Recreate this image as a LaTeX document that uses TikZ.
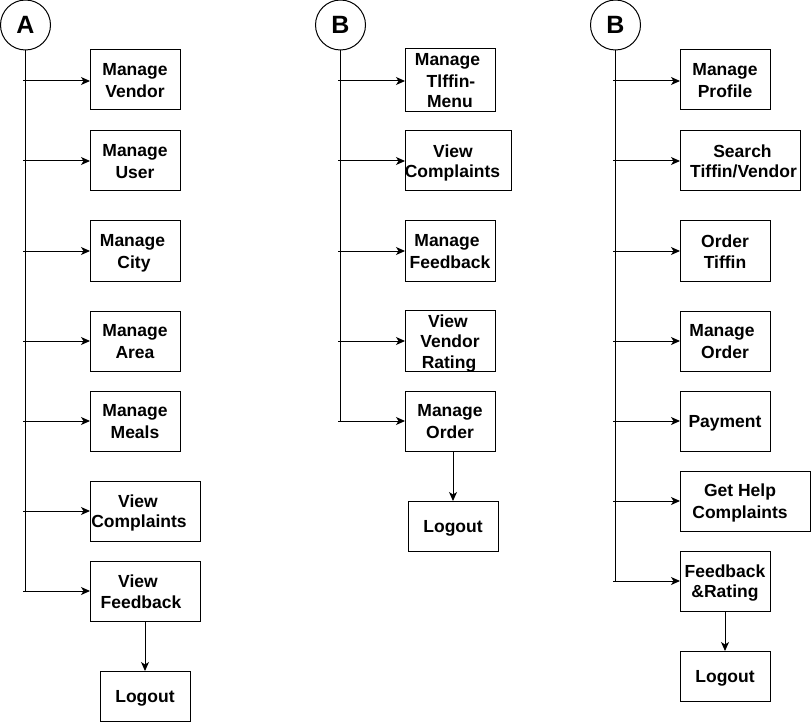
\documentclass[tikz,border=0pt]{standalone}
\usepackage{fontspec}
\setmainfont{Liberation Sans}
\usetikzlibrary{arrows.meta}
\newcommand\Lx[2][0pt]{\kern#1\rule[-3.5pt]{0pt}{20.5pt}#2}
\begin{document}
\begin{tikzpicture}[x=1pt,y=-1pt,
  box/.style={draw, line width=1pt, inner sep=0pt, outer sep=0pt, align=center,
    font=\bfseries\fontsize{17.5}{20.5}\selectfont},
  head/.style={draw, circle, line width=1pt, minimum size=50pt, inner sep=0pt, outer sep=0pt,
    font=\bfseries\fontsize{25}{30}\selectfont},
  wire/.style={line width=1pt},
  conn/.style={line width=1pt, -{Stealth[length=9pt,width=8pt,inset=2.5pt]}}]
\useasboundingbox (0,0) rectangle (811,722);

% ---------- Column A ----------
\node[head] (cA) at (25.5,25) {A};
\node[box, minimum width=90pt, minimum height=60pt] (A1) at (135,80) {\Lx{Manage}\\\Lx{Vendor}};
\node[box, minimum width=90pt, minimum height=60pt] (A2) at (135,161) {\Lx{Manage}\\\Lx{User}};
\node[box, minimum width=90pt, minimum height=60pt] (A3) at (135,251) {\Lx[-5pt]{Manage}\\\Lx[-2pt]{City}};
\node[box, minimum width=90pt, minimum height=60pt] (A4) at (135,341) {\Lx{Manage}\\\Lx{Area}};
\node[box, minimum width=90pt, minimum height=60pt] (A5) at (135,421) {\Lx{Manage}\\\Lx{Meals}};
\node[box, minimum width=110pt, minimum height=60pt] (A6) at (145,511) {\Lx[-14pt]{View}\\\Lx[-12pt]{Complaints}};
\node[box, minimum width=110pt, minimum height=60pt] (A7) at (145,591) {\Lx[-14pt]{View}\\\Lx[-8pt]{Feedback}};
\node[box, minimum width=90pt, minimum height=50pt] (A8) at (145,696) {\Lx{Logout}};
\coordinate (sA1) at (23,81);
\coordinate (sA2) at (23,161);
\coordinate (sA3) at (23,251);
\coordinate (sA4) at (23,341);
\coordinate (sA5) at (23,421);
\coordinate (sA6) at (23,511);
\coordinate (sA7) at (23,591);
\draw[wire] (cA.south) -- (cA.south |- sA7);
\foreach \i in {1,...,7} {\draw[conn] (sA\i) -- (sA\i -| A\i.west);}
\draw[conn] (A7.south) -- (A8.north);

% ---------- Column B ----------
\node[head] (cB) at (340.5,25) {B};
\node[box, minimum width=90pt, minimum height=60pt] (B1) at (450,80) {\Lx[-5pt]{Manage}\\\Lx[2pt]{Tlffin-}\\\Lx{Menu}};
\node[box, minimum width=106pt, minimum height=60pt] (B2) at (458,161) {\Lx[-10pt]{View}\\\Lx[-11pt]{Complaints}};
\node[box, minimum width=90pt, minimum height=60pt] (B3) at (450,251) {\Lx[-6pt]{Manage}\\\Lx{Feedback}};
\node[box, minimum width=90pt, minimum height=60pt] (B4) at (450,341) {\Lx[-4pt]{View}\\\Lx{Vendor}\\\Lx[-2pt]{Rating}};
\node[box, minimum width=90pt, minimum height=60pt] (B5) at (450,421) {\Lx{Manage}\\\Lx{Order}};
\node[box, minimum width=90pt, minimum height=50pt] (B6) at (453,526) {\Lx{Logout}};
\coordinate (sB1) at (338,81);
\coordinate (sB2) at (338,161);
\coordinate (sB3) at (338,251);
\coordinate (sB4) at (338,341);
\coordinate (sB5) at (338,421);
\draw[wire] (cB.south) -- (cB.south |- sB5);
\foreach \i in {1,...,5} {\draw[conn] (sB\i) -- (sB\i -| B\i.west);}
\draw[conn] (B5.south -| B6.north) -- (B6.north);

% ---------- Column C ----------
\node[head] (cC) at (615.5,25) {B};
\node[box, minimum width=90pt, minimum height=60pt] (C1) at (725,80) {\Lx{Manage}\\\Lx{Profile}};
\node[box, minimum width=120pt, minimum height=60pt] (C2) at (740,161) {\Lx[5pt]{Search}\\\Lx[7pt]{Tiffin/Vendor}};
\node[box, minimum width=90pt, minimum height=60pt] (C3) at (725,251) {\Lx{Order}\\\Lx{Tiffin}};
\node[box, minimum width=90pt, minimum height=60pt] (C4) at (725,341) {\Lx[-6pt]{Manage}\\\Lx{Order}};
\node[box, minimum width=90pt, minimum height=60pt] (C5) at (725,421) {\Lx{Payment}};
\node[box, minimum width=130pt, minimum height=60pt] (C6) at (745,501) {\Lx[-10pt]{Get Help}\\\Lx[-10pt]{Complaints}};
\node[box, minimum width=90pt, minimum height=60pt] (C7) at (725,581) {\Lx{Feedback}\\\Lx{\&Rating}};
\node[box, minimum width=90pt, minimum height=50pt] (C8) at (725,676) {\Lx{Logout}};
\coordinate (sC1) at (613,81);
\coordinate (sC2) at (613,161);
\coordinate (sC3) at (613,251);
\coordinate (sC4) at (613,341);
\coordinate (sC5) at (613,421);
\coordinate (sC6) at (613,501);
\coordinate (sC7) at (613,581);
\draw[wire] (cC.south) -- (cC.south |- sC7);
\foreach \i in {1,...,7} {\draw[conn] (sC\i) -- (sC\i -| C\i.west);}
\draw[conn] (C7.south) -- (C8.north);
\end{tikzpicture}
\end{document}
